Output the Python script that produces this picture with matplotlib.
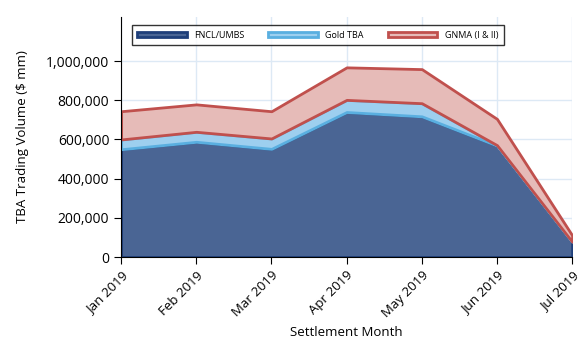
import matplotlib.pyplot as plt
from matplotlib.ticker import FuncFormatter

months = ['Jan 2019', 'Feb 2019', 'Mar 2019', 'Apr 2019', 'May 2019', 'Jun 2019', 'Jul 2019']
fncl = [550000, 588000, 552000, 740000, 718000, 569000, 78000]
gold = [50000, 51000, 53000, 62000, 67000, 2000, 0]
gnma = [144000, 140000, 139000, 166000, 174000, 134000, 33000]

labels = ['FNCL/UMBS', 'Gold TBA', 'GNMA (I & II)']
fills = ['#4a6594', '#9dcfef', '#e6bbb8']
edges = ['#1f3f7a', '#5aafe0', '#c0504d']

plt.rcParams['font.family'] = ['Open Sans', 'DejaVu Sans']

fig = plt.figure(figsize=(5.88, 3.54), dpi=100)
ax = fig.add_axes([0.206, 0.274, 0.767, 0.678])

x = list(range(len(months)))
polys = ax.stackplot(x, fncl, gold, gnma, colors=fills, labels=labels, zorder=2)
for p, ec in zip(polys, edges):
    p.set_edgecolor(ec)
    p.set_linewidth(2)

ax.set_xlim(0, len(months) - 1)
ax.set_ylim(0, 1225000)
ax.set_yticks([0, 200000, 400000, 600000, 800000, 1000000])
ax.yaxis.set_major_formatter(FuncFormatter(lambda v, _: f'{int(v):,}'))
ax.set_xticks(x)
ax.set_xticklabels(months, rotation=45, ha='right', rotation_mode='anchor', fontsize=9.5)
ax.tick_params(axis='y', labelsize=10, length=5)
ax.tick_params(axis='x', length=5)

ax.grid(True, color='#dde9f5', linewidth=1, zorder=0)
ax.set_axisbelow(True)
for s in ['top', 'right']:
    ax.spines[s].set_visible(False)

ax.set_xlabel('Settlement Month', fontsize=9.5)
ax.set_ylabel('TBA Trading Volume ($ mm)', fontsize=9.5, labelpad=12)

leg = ax.legend(loc='upper left', bbox_to_anchor=(0.013, 0.985, 0.845, 0.0), mode='expand',
                ncol=3, fontsize=6.5, frameon=True, fancybox=False, handlelength=5.5,
                handleheight=0.5, borderpad=0.6)
leg.get_frame().set_edgecolor('black')
leg.get_frame().set_linewidth(1)

fig.savefig('out.png', dpi=100)
